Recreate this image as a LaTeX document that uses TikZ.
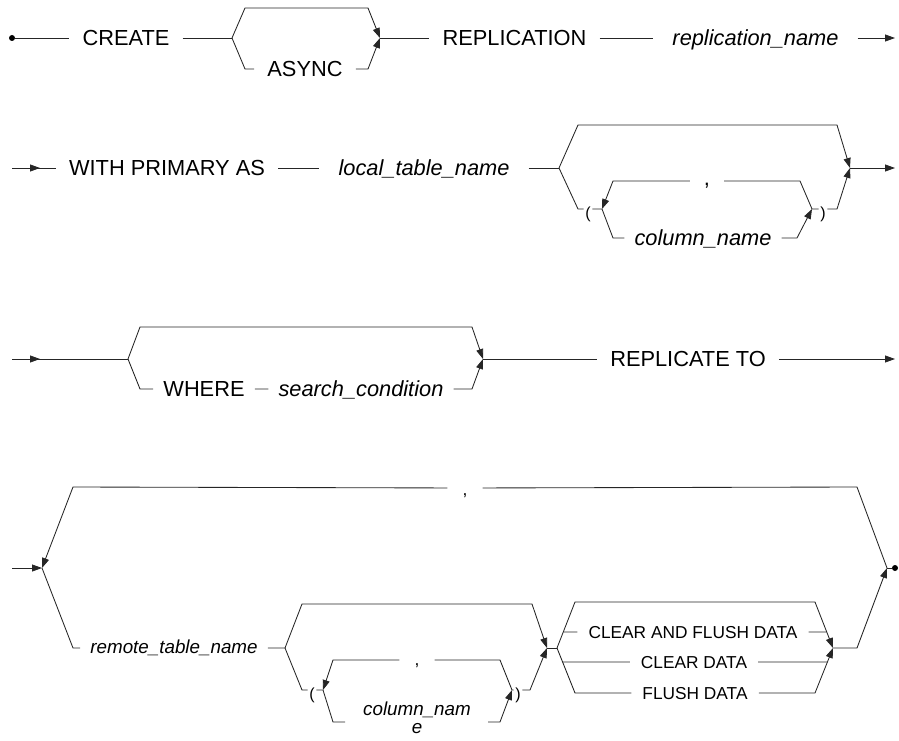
\documentclass[tikz,border=0pt]{standalone}
\usepackage{fontspec}
\setmainfont{Liberation Sans}
\usetikzlibrary{arrows.meta,calc}
\tikzset{>={Triangle[length=10pt,width=7pt]}}
\tikzset{
  rail/.style={line width=0.85pt, black!85},
  kw/.style={font=\fontsize{21.8}{24}\selectfont, inner xsep=13pt, inner ysep=0pt, text height=15.6pt, text depth=0pt},
  var/.style={kw, font=\fontsize{21.8}{24}\selectfont\itshape, inner xsep=19pt},
  skw/.style={kw, font=\fontsize{17.3}{19}\selectfont, text height=12.4pt, inner xsep=11pt},
  svar/.style={kw, font=\fontsize{18.8}{19}\selectfont\itshape, text height=11pt, inner xsep=10pt},
  wrap/.style={font=\fontsize{18.8}{18}\selectfont\itshape, align=center, inner sep=0pt},
  paren/.style={font=\fontsize{16}{16}\selectfont, inner xsep=1.5pt, inner ysep=0pt, text height=19pt, text depth=0pt},
  comma/.style={font=\fontsize{21.8}{24}\selectfont, inner xsep=14pt, inner ysep=0pt, text height=8pt, text depth=0pt},
  scomma/.style={comma, font=\fontsize{17.3}{19}\selectfont, inner xsep=15pt},
  dot/.style={circle, fill=black, inner sep=0pt, minimum size=6pt}
}
\begin{document}
\begin{tikzpicture}[x=1pt,y=-1pt]
\useasboundingbox (0,0) rectangle (899,741);

% CREATE [ASYNC] REPLICATION replication_name
\node[dot] (start) at (12,38) {};
\node[kw] (create) at (126,38) {CREATE};
\coordinate (b1) at (232,38);
\coordinate (m1) at (380,38);
\node[kw] (async) at (305,69) {ASYNC};
\node[kw] (repl) at (514.5,38) {REPLICATION};
\node[var] (rname) at (755.5,38) {replication\_name};
\coordinate (e1) at (895,38);
\draw[rail] (start) -- (create) -- (b1);
\draw[rail,->] (b1) -- (245,8) -- (368,8) -- (m1);
\draw[rail] (b1) -- (245,69) -- (async);
\draw[rail,->] (async) -- (368,69) -- (m1);
\draw[rail] (m1) -- (repl) -- (rname);
\draw[rail,->] (rname) -- (e1);

% WITH PRIMARY AS local_table_name [( column_name, ... )]
\coordinate (in2) at (12,168);
\node[kw] (wpa) at (167,168) {WITH PRIMARY AS};
\node[var] (ltn) at (424,168) {local\_table\_name};
\coordinate (b2) at (559,168);
\coordinate (m2) at (850,168);
\coordinate (e2) at (895,168);
\node[paren] (lp2) at (588,209) {(};
\coordinate (k2a) at (602,209);
\coordinate (k2b) at (812,209);
\node[comma] (cm2) at (707,181) {,};
\node[var, inner xsep=10pt] (cn2) at (703,238) {column\_name};
\node[paren] (rp2) at (823,209) {)};
\draw[rail] (in2) -- (wpa) -- (ltn) -- (b2);
\draw[rail,->] (in2) -- (40,168);
\draw[rail,->] (b2) -- (578,125) -- (837,125) -- (m2);
\draw[rail] (b2) -- (578,209) -- (lp2) -- (k2a);
\draw[rail] (k2a) -- (613,238) -- (cn2);
\draw[rail,->] (cn2) -- (797,238) -- (k2b);
\draw[rail,->] (k2b) -- (800,181) -- (cm2) -- (613,181) -- (k2a);
\draw[rail,->] (k2b) -- (rp2) -- (837,209) -- (m2);
\draw[rail,->] (m2) -- (e2);

% [WHERE search_condition] REPLICATE TO
\coordinate (in3) at (12,359);
\coordinate (b3) at (128,359);
\coordinate (m3) at (483,359);
\coordinate (e3) at (895,359);
\node[kw, inner xsep=10pt] (where) at (204,389) {WHERE};
\node[var, inner xsep=10pt] (cond) at (361,389) {search\_condition};
\node[kw] (rto) at (688,359) {REPLICATE TO};
\draw[rail] (in3) -- (b3);
\draw[rail,->] (in3) -- (40,359);
\draw[rail,->] (b3) -- (140,327) -- (472,327) -- (m3);
\draw[rail] (b3) -- (140,389) -- (where) -- (cond);
\draw[rail,->] (cond) -- (472,389) -- (m3);
\draw[rail] (m3) -- (rto);
\draw[rail,->] (rto) -- (e3);

% remote_table_name [( column_name, ... )] [CLEAR ...], ...
\coordinate (in4) at (12,568);
\coordinate (b4) at (42,568);
\coordinate (m4) at (887,568);
\node[dot] (stop) at (895,568) {};
\node[scomma, text height=14pt] (cm4) at (465,488) {,};
\node[svar] (rtn) at (174,648) {remote\_table\_name};
\coordinate (b5) at (285,648);
\coordinate (m5) at (547,648);
\coordinate (b6) at (557,648);
\coordinate (m6) at (833,648);
\node[paren] (lp4) at (312,690) {(};
\coordinate (k4a) at (323,690);
\coordinate (k4b) at (512,690);
\node[scomma, text height=10pt] (cm5) at (417,660) {,};
\node[wrap] (cn4) at (417,717.5) {column\_nam\\e};
\coordinate (c4l) at (345,722);
\coordinate (c4r) at (488,722);
\node[paren] (rp4) at (518,690) {)};
\node[skw] (caf) at (693,632) {CLEAR AND FLUSH DATA};
\node[skw] (cd) at (694,662) {CLEAR DATA};
\node[skw] (fd) at (695,693) {FLUSH DATA};
\coordinate (caf-l) at ($(b6)!0.348!(575,602)$);
\coordinate (caf-r) at ($(815,602)!0.652!(m6)$);
\coordinate (cd-l) at ($(b6)!0.311!(575,693)$);
\coordinate (cd-r) at ($(815,693)!0.689!(m6)$);
\draw[rail,->] (in4) -- (b4);
\draw[rail,->] (m4) -- (857,487) -- (cm4) -- (73,487) -- (b4);
\draw[rail] (b4) -- (73,648) -- (rtn) -- (b5);
\draw[rail,->] (b5) -- (302,604) -- (532,604) -- (m5);
\draw[rail] (b5) -- (302,690) -- (lp4) -- (k4a);
\draw[rail,->] (k4b) -- (500,660) -- (cm5) -- (333,660) -- (k4a);
\draw[rail] (k4a) -- (333,722) -- (c4l);
\draw[rail,->] (c4r) -- (500,722) -- (k4b);
\draw[rail,->] (k4b) -- (rp4) -- (530,690) -- (m5);
\draw[rail] (m5) -- (b6);
\draw[rail,->] (b6) -- (575,602) -- (815,602) -- (m6);
\draw[rail] (caf-l) -- (caf) -- (caf-r);
\draw[rail] (cd-l) -- (cd) -- (cd-r);
\draw[rail] (b6) -- (575,693) -- (fd);
\draw[rail,->] (fd) -- (815,693) -- (m6);
\draw[rail,->] (m6) -- (857,648) -- (m4);
\draw[rail] (m4) -- (stop);
\end{tikzpicture}
\end{document}
